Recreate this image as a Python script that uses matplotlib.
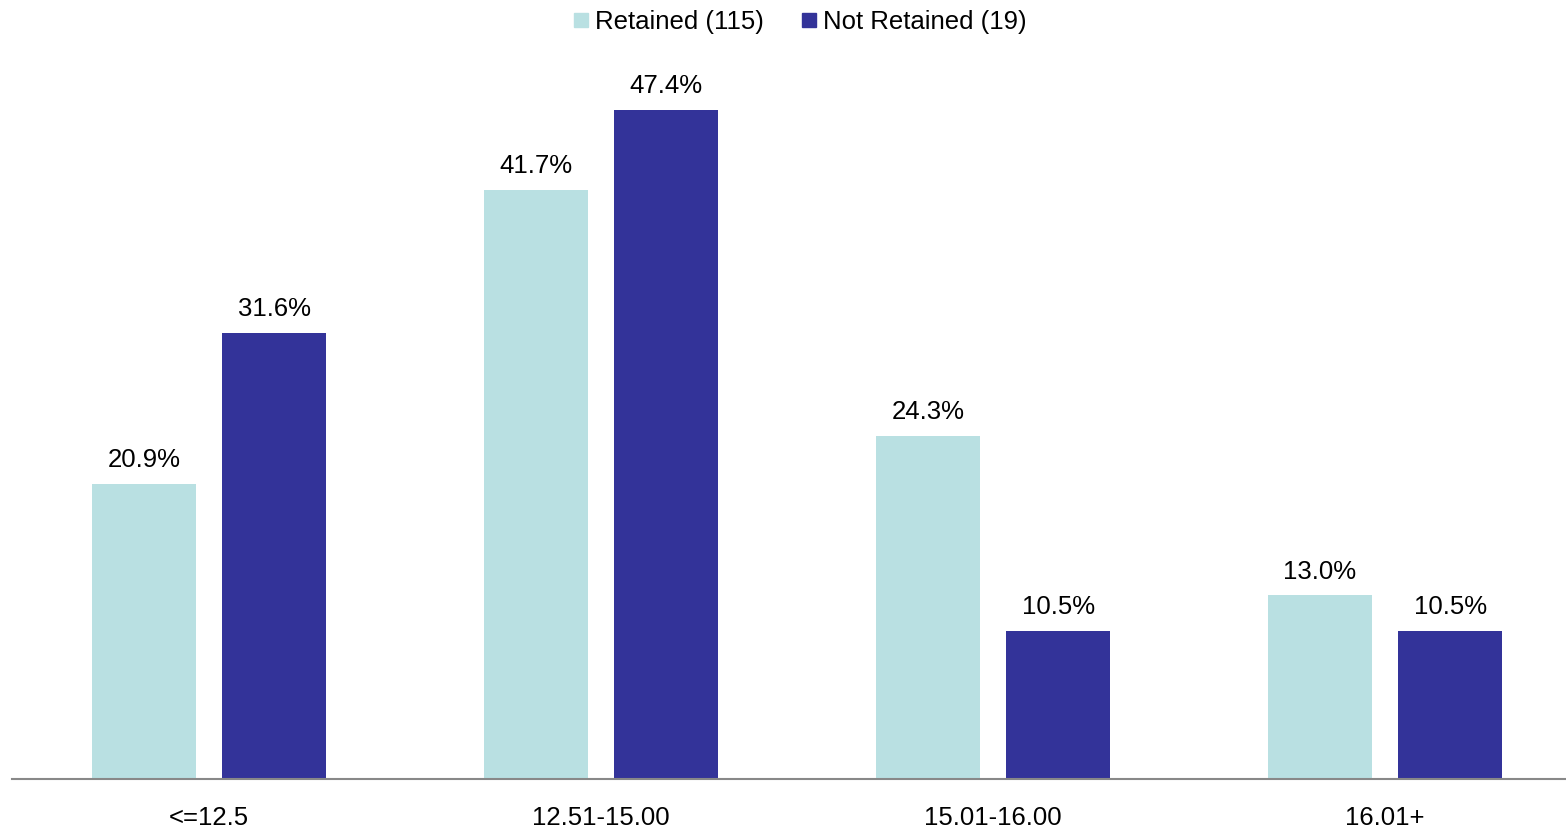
import numpy as np
import matplotlib.pyplot as plt
from matplotlib.lines import Line2D

plt.rcParams['font.family'] = ['Liberation Sans', 'DejaVu Sans']

categories = ['<=12.5', '12.51-15.00', '15.01-16.00', '16.01+']
retained = [20.9, 41.7, 24.3, 13.0]
not_retained = [31.6, 47.4, 10.5, 10.5]
series_names = ['Retained (115)', 'Not Retained (19)']

light = '#B9E0E2'
dark = '#333399'
fs = 18.5

fig = plt.figure(figsize=(15.66, 8.33), dpi=100)
ax = fig.add_axes([12 / 1566, 54 / 833, 1554 / 1566, 706 / 833])

x = np.arange(len(categories))
w = 0.265
off = 0.166
b1 = ax.bar(x - off, retained, w, color=light)
b2 = ax.bar(x + off, not_retained, w, color=dark)

# value labels above each bar
for bars, vals in ((b1, retained), (b2, not_retained)):
    for rect, v in zip(bars, vals):
        ax.annotate(f'{v:.1f}%', (rect.get_x() + rect.get_width() / 2, v),
                    xytext=(0, 8.5), textcoords='offset points',
                    ha='center', va='bottom', fontsize=fs, color='black')

ax.set_xlim(-0.5026, 3.4617)
ax.set_ylim(0, 50)
ax.set_xticks(x)
ax.set_xticklabels(categories, fontsize=fs)
ax.tick_params(axis='x', length=0, pad=19.5)
ax.set_yticks([])
for s in ('top', 'right', 'left'):
    ax.spines[s].set_visible(False)
ax.spines['bottom'].set_color('#888888')
ax.spines['bottom'].set_linewidth(1.5)

handles = [Line2D([], [], marker='s', linestyle='none', markersize=9.5,
                  markerfacecolor=c, markeredgecolor=c) for c in (light, dark)]
fig.legend(handles, series_names, loc='center', ncol=2,
           bbox_to_anchor=(801 / 1566, 1 - 22 / 833), frameon=False,
           fontsize=fs, handlelength=0.5, handletextpad=0.3,
           columnspacing=1.5, borderpad=0)

fig.savefig('out.png', dpi=100)
